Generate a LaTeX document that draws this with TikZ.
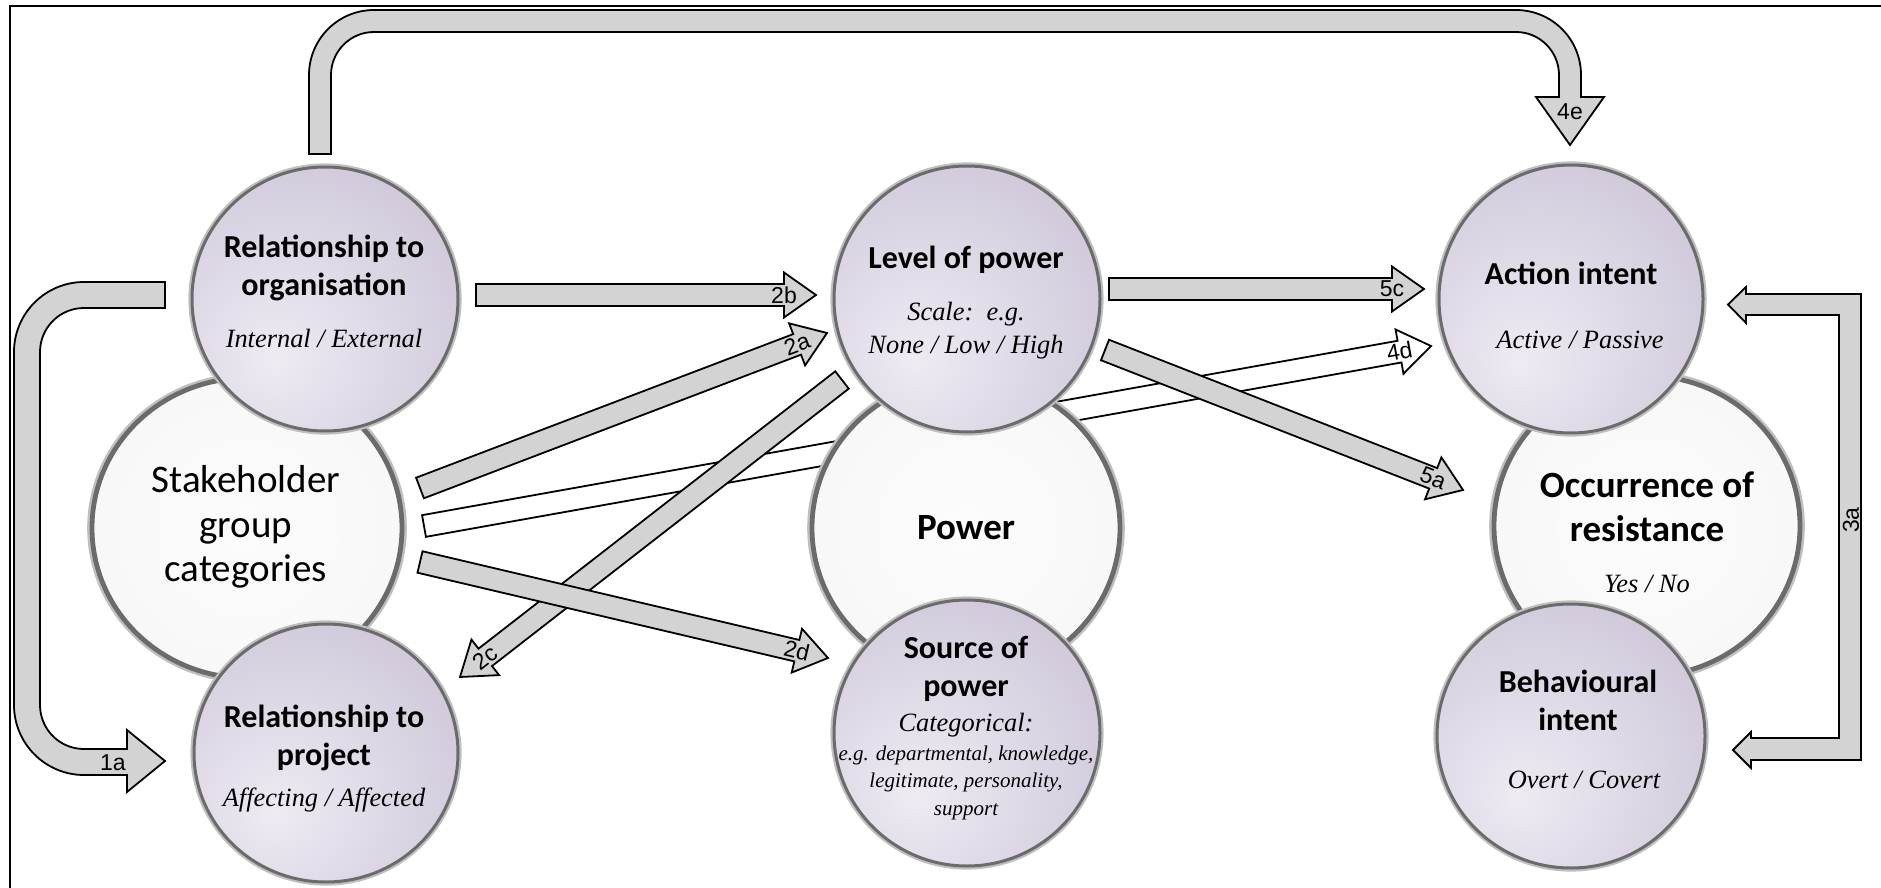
\documentclass[tikz,border=0pt]{standalone}
\usepackage{fontspec}
\setmainfont{Liberation Serif}
\newfontfamily\calib{Carlito}
\newfontfamily\arialf{Liberation Sans}
\usetikzlibrary{calc,shapes.geometric}
\definecolor{arrgray}{HTML}{D3D3D3}
\definecolor{lavA}{HTML}{EEEBF3}
\definecolor{lavB}{HTML}{DCD6E4}
\definecolor{lavC}{HTML}{C5BCD1}
\definecolor{lavD}{HTML}{B3A8C1}
\definecolor{wA}{HTML}{FCFCFC}
\definecolor{wB}{HTML}{F6F6F6}
\definecolor{wC}{HTML}{DDDDDD}
\definecolor{wD}{HTML}{B8B8B8}
\pgfdeclareradialshading{lavshade}{\pgfpoint{-10bp}{-12bp}}{color(0bp)=(lavA); color(22bp)=(lavB); color(48bp)=(lavC); color(62bp)=(lavD); color(90bp)=(lavD)}
\pgfdeclareradialshading{whtshade}{\pgfpoint{0bp}{0bp}}{color(0bp)=(wA); color(36bp)=(wB); color(46bp)=(wC); color(50bp)=(wD); color(80bp)=(wD)}
\newcommand{\barr}[3]{%
  \coordinate (#2b) at ($(#2)!16pt!(#1)$);
  \draw[arrline, fill=#3] ($(#1)!5.5pt!90:(#2)$) -- ($(#2b)!5.5pt!90:(#2)$) -- ($(#2b)!11.25pt!90:(#2)$) -- (#2) -- ($(#2b)!11.25pt!-90:(#2)$) -- ($(#2b)!5.5pt!-90:(#2)$) -- ($(#1)!5.5pt!-90:(#2)$) -- cycle;
}
\newcommand{\alabel}[4]{%
  \path ($(#2)!16pt!(#1)$) -- (#2) node[lbl, sloped, pos=0] (#3) {#4};
}
\begin{document}
\begin{tikzpicture}[x=0.5pt,y=-0.5pt,
  arrline/.style={draw=black, line width=0.9pt, line join=miter},
  smallc/.style={ellipse, draw=black!58, line width=1.5pt, shading=lavshade, inner sep=0pt, preaction={draw=black!25, line width=3.6pt}},
  bigc/.style={ellipse, draw=black!58, line width=2.4pt, shading=whtshade, inner sep=0pt, preaction={draw=black!25, line width=4.8pt}},
  ttl/.style={font=\calib\bfseries\fontsize{16}{19}\selectfont, align=center, inner sep=0pt},
  bigttl/.style={font=\calib\bfseries\fontsize{18.5}{22}\selectfont, align=center, inner sep=0pt},
  sgttl/.style={font=\calib\fontsize{19.5}{22.3}\selectfont, align=center, inner sep=0pt},
  sub/.style={font=\itshape\fontsize{13.2}{16.5}\selectfont, align=center, inner sep=0pt},
  subsmall/.style={font=\itshape\fontsize{10.5}{13.75}\selectfont, align=center, inner sep=0pt},
  lbl/.style={font=\arialf\fontsize{11.5}{12}\selectfont, inner sep=0pt}]
\useasboundingbox (0,0) rectangle (1881,888);
\fill[white] (0,0) rectangle (1881,888);
\draw[line width=1pt] (10,888) -- (10,6) -- (1881,6);

% arrow end points
\coordinate (t2b) at (476,295); \coordinate (h2b) at (816,295);
\coordinate (t2a) at (420,488); \coordinate (h2a) at (827,333);
\coordinate (t2c) at (842,380); \coordinate (h2c) at (460,677);
\coordinate (t2d) at (420,562); \coordinate (h2d) at (828,658);
\coordinate (t4d) at (424,526); \coordinate (h4d) at (1431,346);
\coordinate (t5c) at (1109,289); \coordinate (h5c) at (1424,289);
\coordinate (t5a) at (1105,350); \coordinate (h5a) at (1463,490);

% 4d passes behind the circles
\barr{t4d}{h4d}{white}

% big circles
\node[bigc, minimum width=155pt, minimum height=150pt] (sg) at (247,528) {};
\node[bigc, minimum width=154pt, minimum height=150pt] (pw) at (966,528) {};
\node[bigc, minimum width=153pt, minimum height=150pt] (oc) at (1647,526) {};
% small circles
\node[smallc, minimum width=133pt, minimum height=132pt] (ro) at (325,299) {};
\node[smallc, minimum width=132pt, minimum height=129pt] (rp) at (326,753) {};
\node[smallc, minimum width=133pt, minimum height=133pt] (lp) at (967,299) {};
\node[smallc, minimum width=133pt, minimum height=133pt] (sp) at (967,733) {};
\node[smallc, minimum width=132pt, minimum height=134pt] (ai) at (1571,299) {};
\node[smallc, minimum width=134pt, minimum height=132pt] (bi) at (1571,736) {};

% texts
\node[sgttl] (sgt) at (246,527) {Stakeholder\\group\\categories};
\node[bigttl] (pwt) at (966,528) {Power};
\node[bigttl] (oct) at (1647,507) {Occurrence of\\resistance};
\node[sub] (ocs) at (1647,584) {Yes / No};
\node[ttl] (rot) at (324,268) {Relationship to\\organisation};
\node[sub] (ros) at (324,338) {Internal / External};
\node[ttl] (rpt) at (324,738) {Relationship to\\project};
\node[sub] (rps) at (324,800) {Affecting / Affected};
\node[ttl] (lpt) at (966,260) {Level of power};
\node[sub] (lps) at (966,330.5) {Scale:\ \ e.g.\\None / Low / High};
\node[ttl] (spt) at (966,668.5) {Source of\\power};
\node[sub] (spc) at (966,725) {Categorical:};
\node[subsmall] (sps) at (966,782.5) {e.g. departmental, knowledge,\\legitimate, personality,\\support};
\node[ttl] (ait) at (1571,273) {Action intent};
\node[sub] (ais) at (1580,340) {Active / Passive};
\node[ttl] (bit) at (1578,700) {Behavioural\\intent};
\node[sub] (bis) at (1584,780) {Overt / Covert};

% straight block arrows
\barr{t2b}{h2b}{arrgray}
\barr{t2a}{h2a}{arrgray}
\barr{t2c}{h2c}{arrgray}
\barr{t2d}{h2d}{arrgray}
\barr{t5c}{h5c}{arrgray}
\barr{t5a}{h5a}{arrgray}

% 4e: from organisation over the top to action intent
\draw[arrline, fill=arrgray] (309,154) -- (309,75) .. controls (309,39.1) and (338.1,10) .. (374,10) -- (1516,10) .. controls (1551.9,10) and (1581,39.1) .. (1581,75) -- (1581,97) -- (1604,97) -- (1570,145) -- (1536,97) -- (1559,97) -- (1559,75) .. controls (1559,51.3) and (1539.7,32) .. (1516,32) -- (374,32) .. controls (350.3,32) and (331,51.3) .. (331,75) -- (331,154) -- cycle;
% 1a: organisation to project
\draw[arrline, fill=arrgray] (165,282) -- (84,282) .. controls (45.4,282) and (14,313.4) .. (14,352) -- (14,705) .. controls (14,743.6) and (45.4,775) .. (84,775) -- (127,775) -- (127,792) -- (165,761) -- (127,730) -- (127,749) -- (84,749) .. controls (59.7,749) and (40,729.3) .. (40,705) -- (40,352) .. controls (40,327.7) and (59.7,308) .. (84,308) -- (165,308) -- cycle;
% 3a: bracket between action intent and behavioural intent
\draw[arrline, fill=arrgray] (1746,294) -- (1861,294) -- (1861,760) -- (1751,760) -- (1751,768) -- (1733,750) -- (1751,732) -- (1751,738) -- (1839,738) -- (1839,315) -- (1746,315) -- (1746,323) -- (1728,304.5) -- (1746,287) -- cycle;

% labels
\alabel{t2b}{h2b}{l2b}{2b}
\alabel{t2a}{h2a}{l2a}{2a}
\alabel{t2c}{h2c}{l2c}{2c}
\alabel{t2d}{h2d}{l2d}{2d}
\alabel{t4d}{h4d}{l4d}{4d}
\alabel{t5c}{h5c}{l5c}{5c}
\alabel{t5a}{h5a}{l5a}{5a}
\node[lbl] (l4e) at (1570,112) {4e};
\node[lbl] (l1a) at (113,763) {1a};
\node[lbl, rotate=90] (l3a) at (1851,520) {3a};
\end{tikzpicture}
\end{document}
